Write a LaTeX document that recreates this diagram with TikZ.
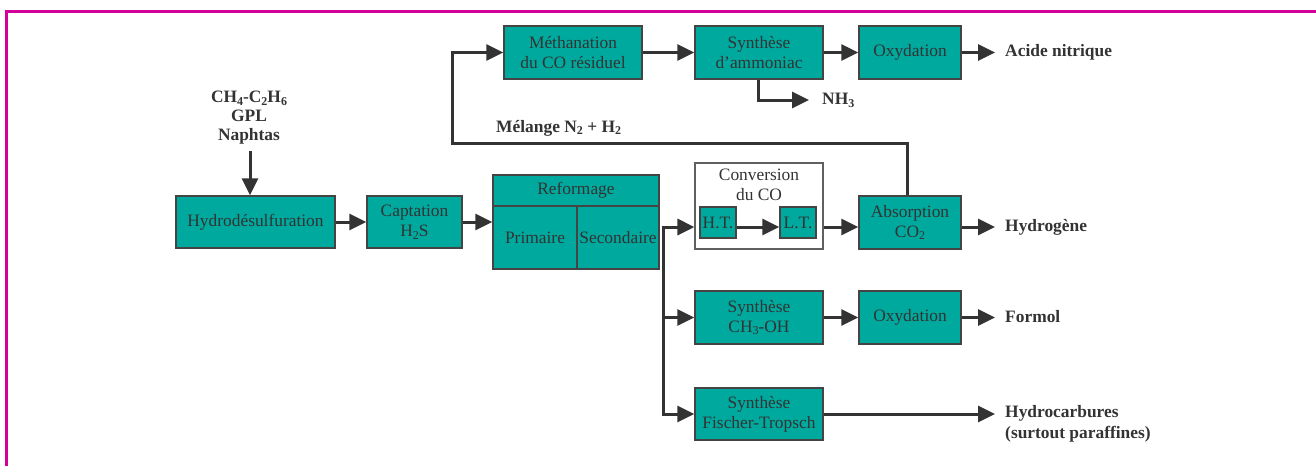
\documentclass[tikz,border=0pt]{standalone}
\usepackage{fontspec}
\setmainfont{Liberation Serif}
\usetikzlibrary{arrows.meta,calc}
\definecolor{tealfill}{RGB}{0,169,157}
\definecolor{ink}{RGB}{51,51,51}
\definecolor{edgegray}{RGB}{68,68,68}
\definecolor{framecol}{RGB}{212,0,154}
% lowered small figures for chemical formulas
\newcommand\lw[1]{\raisebox{-0.35ex}{\fontsize{12}{12}\selectfont #1}}

\begin{document}
\begin{tikzpicture}[x=1pt,y=-1pt,
  txt/.style={font=\fontsize{17.4}{20}\selectfont, text=ink, align=center},
  unit/.style={txt, draw=edgegray, line width=1.5pt, fill=tealfill, inner sep=0pt},
  lbl/.style={font=\bfseries\fontsize{17.4}{21}\selectfont, text=ink, align=left,
              anchor=west, inner sep=0pt, inner xsep=10pt},
  flow/.style={draw=ink, line width=3pt, -{Triangle[length=17pt,width=16pt]}},
  link/.style={draw=ink, line width=3pt}]
\useasboundingbox (0,0) rectangle (1316,466);

% page frame
\draw[framecol, line width=2.7pt] (6.3,466) -- (6.3,11.3) -- (1316,11.3);

% feed
\node[font=\bfseries\fontsize{17.4}{19}\selectfont, text=ink, align=center, inner sep=0pt]
  (feed) at (249,118) {CH\lw{4}-C\lw{2}H\lw{6}\\GPL\\Naphtas};

% main line
\node[unit, minimum width=159pt, minimum height=52pt] (hds) at (255.5,222) {Hydrodésulfuration};
\node[unit, minimum width=95pt, minimum height=52pt] (cap) at (414.5,222) {Captation\\H\lw{2}S};
\node[unit, minimum width=166pt, minimum height=31pt] (refh) at (576,190.5) {Reformage};
\node[unit, minimum width=84pt, minimum height=63pt] (prim) at (535,237.5) {Primaire};
\node[unit, minimum width=82pt, minimum height=63pt] (sec) at (618,237.5) {Secondaire};

% CO conversion
\node[draw=edgegray!85, line width=1.2pt, fill=white, minimum width=128pt, minimum height=86pt,
      inner sep=0pt] (conv) at (759,206) {};
\node[txt, inner sep=0pt] (convt) at (759,185) {Conversion\\du CO};
\node[unit, minimum width=36pt, minimum height=31pt] (ht) at (718,222.5) {H.T.};
\node[unit, minimum width=36pt, minimum height=31pt] (lt) at (798,222.5) {L.T.};
\node[unit, minimum width=102pt, minimum height=53pt] (abs) at (910,222.5) {Absorption\\CO\lw{2}};

% ammonia line
\node[unit, minimum width=138pt, minimum height=53pt] (mth) at (573,52.5) {Méthanation\\du CO résiduel};
\node[unit, minimum width=128pt, minimum height=53pt] (amm) at (759,52.5) {Synthèse\\d’ammoniac};
\node[unit, minimum width=102pt, minimum height=53pt] (oxA) at (910,52.5) {Oxydation};

% methanol and Fischer-Tropsch lines
\node[unit, minimum width=128pt, minimum height=53pt] (meoh) at (759,317.5) {Synthèse\\CH\lw{3}-OH};
\node[unit, minimum width=102pt, minimum height=53pt] (oxF) at (910,317.5) {Oxydation};
\node[unit, minimum width=128pt, minimum height=52pt] (ft) at (759,414) {Synthèse\\Fischer-Tropsch};

% products
\node[lbl] (acide) at (995,52) {Acide nitrique};
\node[lbl, inner xsep=13pt] (nh3) at (809,100) {NH\lw{3}};
\node[lbl, inner xsep=0pt] (mel) at (496,128) {Mélange N\lw{2} + H\lw{2}};
\node[lbl] (hyd) at (995,227) {Hydrogène};
\node[lbl] (form) at (995,317) {Formol};
\node[lbl] (hc) at (995,424) {Hydrocarbures\\(surtout paraffines)};

\coordinate (split) at (663,227);
\coordinate (loopL) at (452,143);

% connectors
\draw[flow] (feed.south) ++(1,6) -- (250,0 |- hds.north);
\draw[flow] (hds) -- (cap);
\draw[flow] (cap.east) -- (cap.east -| prim.west);
\draw[flow] ([xshift=-1.5pt]split) -- (split -| conv.west);
\draw[flow] ([yshift=-4.5pt]ht.east) -- ([yshift=-4.5pt]lt.west);
\draw[flow] (split -| conv.east) -- (split -| abs.west);
\draw[flow] (split -| abs.east) -- (hyd.west);
\draw[flow] (split) |- (ft.west);
\draw[flow] (split |- meoh.west) -- (meoh.west);
\draw[flow] (meoh) -- (oxF);
\draw[flow] (oxF.east) -- (oxF.east -| form.west);
\draw[flow] (ft.east) -- (ft.east -| hc.west);
\draw[flow] ([xshift=-3pt]abs.north) -- ([xshift=-3pt]abs.north |- loopL) -- (loopL) |- (mth.west);
\draw[flow] (mth) -- (amm);
\draw[flow] (amm) -- (oxA);
\draw[flow] (oxA.east) -- (oxA.east -| acide.west);
\draw[flow] ([xshift=-1pt]amm.south) |- (nh3.west);
\end{tikzpicture}
\end{document}
